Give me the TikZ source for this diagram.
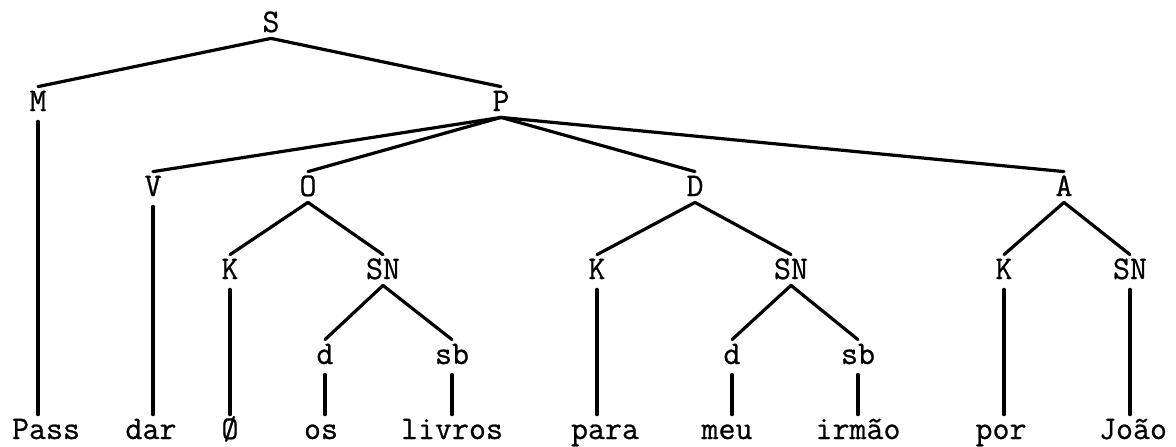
\documentclass[tikz,border=0pt]{standalone}
\usepackage{fontspec}
\newfontfamily\tw{Latin Modern Mono}[FakeBold=0.7]
\begin{document}
\begin{tikzpicture}[x=0.5pt,y=0.5pt,
  lab/.style={inner sep=3pt, text height=9pt, text depth=0pt, font=\tw\fontsize{16.5}{18}\selectfont},
  br/.style={line width=1.6pt, line cap=round}]
\useasboundingbox (0,0) rectangle (1176,-446);
% nodes
\node[lab] (S) at (271,-23) {S};
\node[lab] (M) at (38,-102) {M};
\node[lab] (P) at (501,-102) {P};
\node[lab] (V) at (153,-187) {V};
\node[lab] (O) at (308,-187) {O};
\node[lab] (D) at (695,-187) {D};
\node[lab] (A) at (1064,-187) {A};
\node[lab] (K1) at (230,-270) {K};
\node[lab] (SN1) at (383,-270) {SN};
\node[lab] (K2) at (597,-270) {K};
\node[lab] (SN2) at (791,-270) {SN};
\node[lab] (K3) at (1004,-270) {K};
\node[lab] (SN3) at (1130,-270) {SN};
\node[lab] (d1) at (325,-355) {d};
\node[lab] (sb1) at (452,-355) {sb};
\node[lab] (d2) at (732,-355) {d};
\node[lab] (sb2) at (858,-355) {sb};
\node[lab] (Pass) at (46,-430) {Pass};
\node[lab] (dar) at (151,-430) {dar};
\node[lab] (zero) at (230,-430) {Ø};
\node[lab] (os) at (321,-430) {os};
\node[lab] (livros) at (452,-430) {livros};
\node[lab] (para) at (605,-430) {para};
\node[lab] (meu) at (727,-430) {meu};
\node[lab] (irmao) at (858,-430) {irmão};
\node[lab] (por) at (1001,-430) {por};
\node[lab] (Joao) at (1133,-430) {João};
% branches
\foreach \c in {M,P} \draw[br] (S.south) -- (\c.north);
\foreach \c in {V,O,D,A} \draw[br] (P.south) -- (\c.north);
\foreach \c in {K1,SN1} \draw[br] (O.south) -- (\c.north);
\foreach \c in {K2,SN2} \draw[br] (D.south) -- (\c.north);
\foreach \c in {K3,SN3} \draw[br] (A.south) -- (\c.north);
\foreach \c in {d1,sb1} \draw[br] (SN1.south) -- (\c.north);
\foreach \c in {d2,sb2} \draw[br] (SN2.south) -- (\c.north);
% vertical lines to words
\foreach \p/\w in {M/Pass,V/dar,K1/zero,d1/os,sb1/livros,K2/para,d2/meu,sb2/irmao,K3/por,SN3/Joao}
  \draw[br] ([yshift=-2pt]\p.south) -- (\p.south |- \w.north);
\end{tikzpicture}
\end{document}
